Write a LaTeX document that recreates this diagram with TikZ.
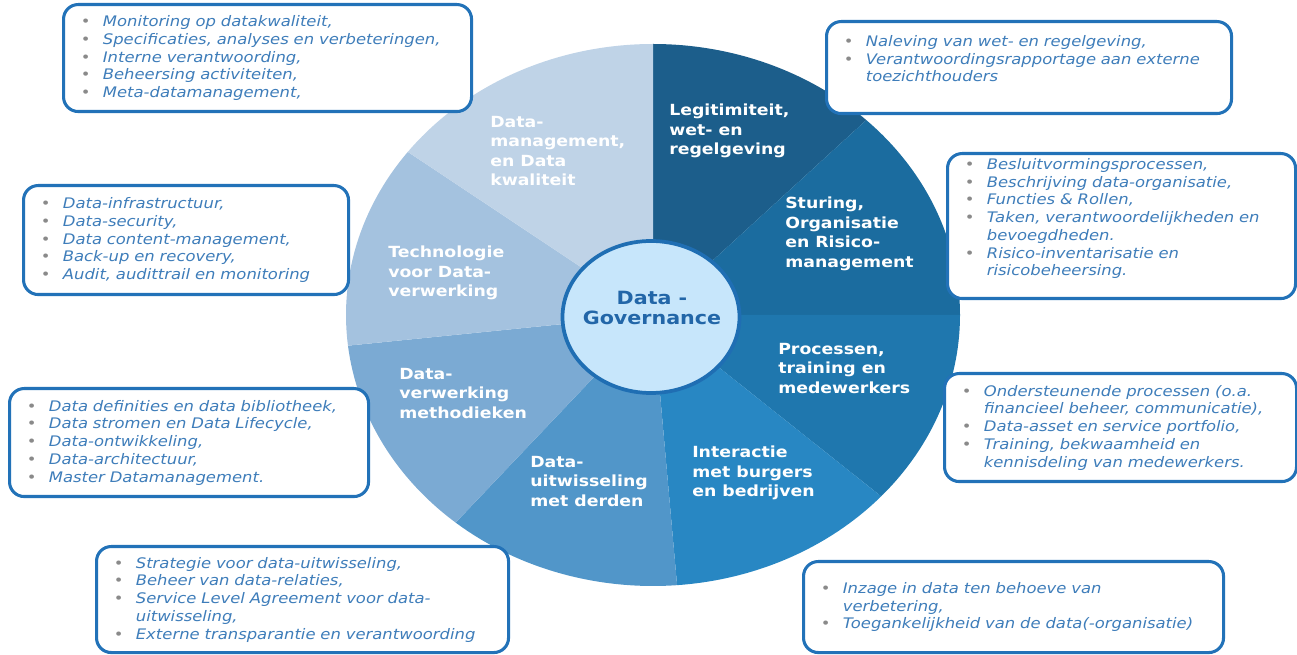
\documentclass[tikz,border=0pt]{standalone}
\usepackage{fontspec}
\setmainfont{DejaVu Sans}[FakeStretch=1.13]
\usepackage{tikz}
\usetikzlibrary{shapes.geometric}

\definecolor{segLegit}{HTML}{1C5E8B}
\definecolor{segSturing}{HTML}{1B6C9F}
\definecolor{segProces}{HTML}{1F77AE}
\definecolor{segInter}{HTML}{2887C3}
\definecolor{segUitw}{HTML}{5196C9}
\definecolor{segMethod}{HTML}{7BAAD3}
\definecolor{segTech}{HTML}{A4C2DF}
\definecolor{segMgmt}{HTML}{BFD3E7}
\definecolor{coreFill}{HTML}{C7E6FB}
\definecolor{coreBlue}{HTML}{1F6EB3}
\definecolor{coreText}{HTML}{2266A8}
\definecolor{boxBlue}{HTML}{2272B8}
\definecolor{boxText}{HTML}{3E7DBA}
\definecolor{bulletGray}{HTML}{8A8A8A}

\newcommand{\bul}{\makebox[16.5pt][l]{\textcolor{bulletGray}{\upshape\textbullet}}}
\newcommand{\ind}{\hspace*{16.5pt}}

\tikzset{
  infobox/.style={draw=boxBlue, line width=2.3pt, rounded corners=11pt, fill=white,
    anchor=north west, align=left, inner xsep=13pt, text=boxText,
    font=\itshape\fontsize{10.9}{13.3}\selectfont},
  seglabel/.style={anchor=north west, inner sep=0pt, align=left, text=white,
    font=\bfseries\fontsize{11.5}{14.6}\selectfont},
  core/.style={ellipse, draw=coreBlue, line width=2.8pt, fill=coreFill,
    minimum width=132.75pt, minimum height=114pt},
  coretitle/.style={align=center, text=coreText, font=\bfseries\fontsize{13.7}{15.5}\selectfont},
  pie/.style={x radius=230.25pt, y radius=203.25pt}
}

\begin{document}
\begin{tikzpicture}[x=0.75pt, y=0.75pt]
\useasboundingbox (0,0) rectangle (1297,654);
% the wheel
\begin{scope}[shift={(653,339)}]
\fill[segLegit] (0,0) -- (90:230.25pt and 203.25pt) arc[pie, start angle=90, end angle=46] -- cycle;
\fill[segSturing] (0,0) -- (46:230.25pt and 203.25pt) arc[pie, start angle=46, end angle=0] -- cycle;
\fill[segProces] (0,0) -- (0:230.25pt and 203.25pt) arc[pie, start angle=0, end angle=-42] -- cycle;
\fill[segInter] (0,0) -- (-42:230.25pt and 203.25pt) arc[pie, start angle=-42, end angle=-85.5] -- cycle;
\fill[segUitw] (0,0) -- (-85.5:230.25pt and 203.25pt) arc[pie, start angle=-85.5, end angle=-130] -- cycle;
\fill[segMethod] (0,0) -- (-130:230.25pt and 203.25pt) arc[pie, start angle=-130, end angle=-173.5] -- cycle;
\fill[segTech] (0,0) -- (-173.5:230.25pt and 203.25pt) arc[pie, start angle=-173.5, end angle=-217] -- cycle;
\fill[segMgmt] (0,0) -- (-217:230.25pt and 203.25pt) arc[pie, start angle=-217, end angle=-270] -- cycle;
\end{scope}
%
\node[core] (core) at (651,337) {};
\node[coretitle] (title) at (652,346) {Data -\\Governance};
%
\node[seglabel] (legit) at (669,550) {Legitimiteit,\\wet- en\\regelgeving};
\node[seglabel] (sturing) at (785,457) {Sturing,\\Organisatie\\en Risico-\\management};
\node[seglabel] (proces) at (778,311) {Processen,\\training en\\medewerkers};
\node[seglabel] (inter) at (692,208) {Interactie\\met burgers\\en bedrijven};
\node[seglabel] (uitw) at (530,198) {Data-\\uitwisseling\\met derden};
\node[seglabel] (method) at (399,286) {Data-\\verwerking\\methodieken};
\node[seglabel] (tech) at (388,408) {Technologie\\voor Data-\\verwerking};
\node[seglabel] (mgmt) at (490,538) {Data-\\management,\\en Data\\kwaliteit};
%
% boxes round the wheel
\node[infobox, text width=280pt, minimum height=80.25pt] (mgmtbox) at (62,651)
  {\bul Monitoring op datakwaliteit,\\ \bul Specificaties, analyses en verbeteringen,\\
   \bul Interne verantwoording,\\ \bul Beheersing activiteiten,\\ \bul Meta-datamanagement,};
\node[infobox, text width=277.75pt, minimum height=69pt] (legitbox) at (825,634)
  {\bul Naleving van wet- en regelgeving,\\ \bul Verantwoordingsrapportage aan externe\\
   \ind toezichthouders\\ \mbox{}};
\node[infobox, text width=235pt, minimum height=108.75pt] (sturingbox) at (946,502)
  {\bul Besluitvormingsprocessen,\\ \bul Beschrijving data-organisatie,\\ \bul Functies \& Rollen,\\
   \bul Taken, verantwoordelijkheden en\\ \ind bevoegdheden.\\ \bul Risico-inventarisatie en\\
   \ind risicobeheersing.\\ \mbox{}};
\node[infobox, text width=217.75pt, minimum height=81.75pt] (techbox) at (22,470)
  {\bul Data-infrastructuur,\\ \bul Data-security,\\ \bul Data content-management,\\
   \bul Back-up en recovery,\\ \bul Audit, audittrail en monitoring};
\node[infobox, text width=243.25pt, minimum height=81pt] (methodbox) at (8,267)
  {\bul Data definities en data bibliotheek,\\ \bul Data stromen en Data Lifecycle,\\
   \bul Data-ontwikkeling,\\ \bul Data-architectuur,\\ \bul Master Datamanagement.};
\node[infobox, text width=238pt, minimum height=81pt] (procesbox) at (943,282)
  {\bul Ondersteunende processen (o.a.\\ \ind financieel beheer, communicatie),\\
   \bul Data-asset en service portfolio,\\ \bul Training, bekwaamheid en\\
   \ind kennisdeling van medewerkers.};
\node[infobox, text width=283pt, minimum height=79.5pt] (uitwbox) at (95,109)
  {\bul Strategie voor data-uitwisseling,\\ \bul Beheer van data-relaties,\\
   \bul Service Level Agreement voor data-\\ \ind uitwisseling,\\
   \bul Externe transparantie en verantwoording};
\node[infobox, text width=289pt, minimum height=68.25pt] (interbox) at (802,94)
  {\bul Inzage in data ten behoeve van\\ \ind verbetering,\\
   \bul Toegankelijkheid van de data(-organisatie)};
\end{tikzpicture}
\end{document}
